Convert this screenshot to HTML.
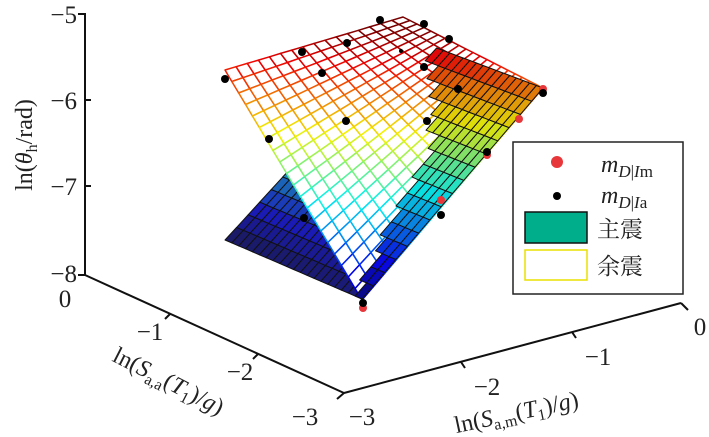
<!DOCTYPE html>
<html><head><meta charset="utf-8"><style>
html,body{margin:0;padding:0;background:#fff;}
svg{display:block;}
text{font-family:"Liberation Serif","Noto Serif CJK SC",serif;fill:#222;}
</style></head><body>
<svg id="s" width="709" height="437" viewBox="0 0 709 437" xmlns="http://www.w3.org/2000/svg">
<g id="fill1"></g>
<g id="mesh"></g>
<g id="fill2"></g>
<g id="dots"></g>
<g stroke="#111" stroke-width="2" fill="none">
<polyline points="78,14 85,14 85,275 78,275"/>
<line x1="85" y1="100" x2="91" y2="100"/>
<line x1="85" y1="186" x2="91" y2="186"/>
<line x1="85" y1="275" x2="344" y2="393"/>
<line x1="344" y1="393" x2="681" y2="303"/>
<line x1="681" y1="303" x2="688" y2="310"/>
<line x1="344" y1="393" x2="337" y2="399"/>
<line x1="170" y1="314" x2="165" y2="319"/>
<line x1="258" y1="354" x2="253" y2="359"/>
<line x1="461" y1="362" x2="465" y2="368"/>
<line x1="572" y1="332" x2="576" y2="338"/>
</g>
<g font-size="25">
<text x="77" y="23" text-anchor="end">−5</text>
<text x="77" y="109" text-anchor="end">−6</text>
<text x="77" y="195" text-anchor="end">−7</text>
<text x="77" y="282" text-anchor="end">−8</text>
<text x="65" y="307" text-anchor="middle">0</text>
<text x="150" y="340" text-anchor="middle">−1</text>
<text x="240" y="380" text-anchor="middle">−2</text>
<text x="305" y="425" text-anchor="middle">−3</text>
<text x="362" y="425" text-anchor="middle">−3</text>
<text x="487" y="395" text-anchor="middle">−2</text>
<text x="598" y="365" text-anchor="middle">−1</text>
<text x="700" y="335" text-anchor="middle">0</text>
</g>
<text font-size="24" transform="translate(32,145) rotate(-90)" text-anchor="middle">ln(<tspan font-style="italic">θ</tspan><tspan font-size="16" dy="5">h</tspan><tspan dy="-5">/rad)</tspan></text>
<text font-size="24" transform="translate(165,388) rotate(27)" text-anchor="middle">ln(<tspan font-style="italic">S</tspan><tspan font-size="16" dy="5">a,a</tspan><tspan dy="-5">(</tspan><tspan font-style="italic">T</tspan><tspan font-size="16" dy="5">1</tspan><tspan dy="-5">)/</tspan><tspan font-style="italic">g</tspan>)</text>
<text font-size="24" transform="translate(518,420) rotate(-12)" text-anchor="middle">ln(<tspan font-style="italic">S</tspan><tspan font-size="16" dy="5">a,m</tspan><tspan dy="-5">(</tspan><tspan font-style="italic">T</tspan><tspan font-size="16" dy="5">1</tspan><tspan dy="-5">)/</tspan><tspan font-style="italic">g</tspan>)</text>
<rect x="513" y="142" width="170" height="152" fill="#fff" stroke="#222" stroke-width="1.5"/>
<circle cx="557" cy="162" r="6" fill="#e8373a"/>
<circle cx="557" cy="196" r="4" fill="#000"/>
<rect x="525" y="212" width="62" height="31" fill="#00ae8b" stroke="#111" stroke-width="1.5"/>
<rect x="525" y="250" width="62" height="30" fill="#fff" stroke="#e8e000" stroke-width="1.5"/>
<text x="601" y="172" font-size="24" font-style="italic">m<tspan font-size="17" dy="5">D</tspan><tspan font-size="17" font-style="normal">|</tspan><tspan font-size="17">I</tspan><tspan font-size="17" font-style="normal">m</tspan></text>
<text x="601" y="203" font-size="24" font-style="italic">m<tspan font-size="17" dy="5">D</tspan><tspan font-size="17" font-style="normal">|</tspan><tspan font-size="17">I</tspan><tspan font-size="17" font-style="normal">a</tspan></text>
<text x="597" y="237" font-size="23" style="font-family:'Noto Serif CJK SC',serif">主震</text>
<text x="597" y="274" font-size="23" style="font-family:'Noto Serif CJK SC',serif">余震</text>
</svg>
<script>
var NS="http://www.w3.org/2000/svg";
function jetA(v){v=Math.max(0,Math.min(1,v));function c(x){return Math.max(0,Math.min(1,x));}
return [c(1.5-Math.abs(4*v-3)),c(1.5-Math.abs(4*v-2)),c(1.5-Math.abs(4*v-1))];}
function rgb(a,k,g){return "rgb("+a.map(function(x){return Math.round(255*(x*k+g))}).join(",")+")";}
function f(y){return 0.625-(y-135)*0.0036;}
function bil(c,u,v){return [c[0][0]*(1-u)*(1-v)+c[1][0]*u*(1-v)+c[2][0]*u*v+c[3][0]*(1-u)*v,
c[0][1]*(1-u)*(1-v)+c[1][1]*u*(1-v)+c[2][1]*u*v+c[3][1]*(1-u)*v];}
var M=[[225,70],[403,17],[543,88],[362,300]];
var F=[[225,240],[410,38],[543,88],[362,299]];
function add(g,pts,fill,stroke,sw){var p=document.createElementNS(NS,"polygon");
p.setAttribute("points",pts.map(function(a){return a[0].toFixed(1)+","+a[1].toFixed(1)}).join(" "));
p.setAttribute("fill",fill);p.setAttribute("stroke",stroke);p.setAttribute("stroke-width",sw);p.setAttribute("stroke-linejoin","round");
document.getElementById(g).appendChild(p);}
var B=[[30,420],[60,430],[100,438],[150,430],[200,402],[250,378],[298,355],[320,345]];
function bx(y){for(var k=0;k<B.length-1;k++){if(y<=B[k+1][0]){var t=(y-B[k][0])/(B[k+1][0]-B[k][0]);return B[k][1]+t*(B[k+1][1]-B[k][1]);}}return 345;}
var NU=16,NV=20;
for(var pass=0;pass<2;pass++){
for(var i=0;i<NU;i++)for(var j=0;j<NV;j++){
var u0=i/NU,u1=(i+1)/NU,v0=j/NV,v1=(j+1)/NV,uc=(u0+u1)/2,vc=(v0+v1)/2;
var cc=bil(F,uc,vc);
if(pass==1 && cc[0]<bx(cc[1]))continue;
var pts=[bil(F,u0,v0),bil(F,u1,v0),bil(F,u1,v1),bil(F,u0,v1)];
var val=f(cc[1])-0.25*(1-uc)*(1-vc)-0.03;
var col=pass==0?rgb(jetA(val),0.62,0.1):rgb(jetA(val),0.85,0.03);
add(pass?"fill2":"fill1",pts,col,"#111",1);
}}
for(var i=0;i<NU;i++)for(var j=0;j<NV;j++){
var u0=i/NU,u1=(i+1)/NU,v0=j/NV,v1=(j+1)/NV,uc=(u0+u1)/2,vc=(v0+v1)/2;
var pts=[bil(M,u0,v0),bil(M,u1,v0),bil(M,u1,v1),bil(M,u0,v1)];
var yc=bil(M,uc,vc)[1];
add("mesh",pts,"#fff",rgb(jetA(f(yc)),0.95,0),1.5);
}
var reds=[[543,89],[519,119],[487,155],[441,200],[363,308]];
var blacks=[[380,20],[424,24],[347,43],[449,39],[424,67],[458,89],[543,93],[346,121],[427,121],[487,152],[441,215],[363,303],[225,79],[302,52],[322,73],[269,139],[304,218],[401,51]];
reds.forEach(function(p){var c=document.createElementNS(NS,"circle");c.setAttribute("cx",p[0]);c.setAttribute("cy",p[1]);c.setAttribute("r",4);c.setAttribute("fill","#e8373a");document.getElementById("dots").appendChild(c);});
blacks.forEach(function(p,k){var c=document.createElementNS(NS,"circle");c.setAttribute("cx",p[0]);c.setAttribute("cy",p[1]);c.setAttribute("r",k==17?2:4);c.setAttribute("fill","#000");document.getElementById("dots").appendChild(c);});
</script>
</body></html>
